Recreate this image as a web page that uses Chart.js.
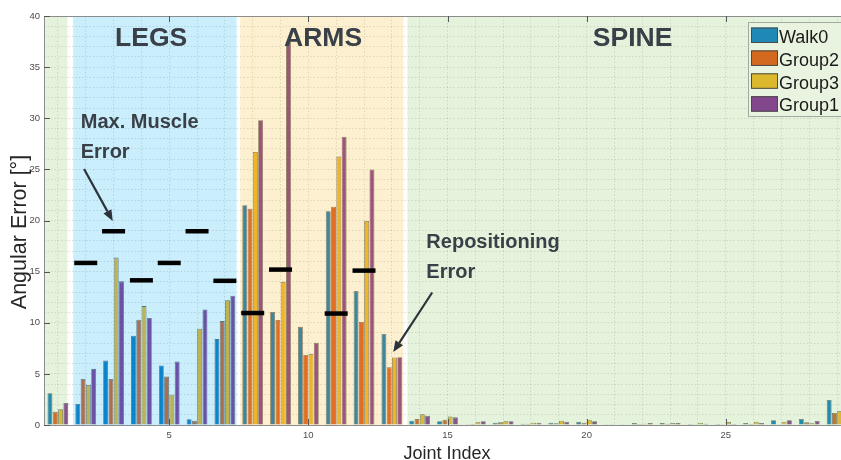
<!DOCTYPE html>
<html>
<head>
<meta charset="utf-8">
<script src="https://cdn.jsdelivr.net/npm/chart.js@4.4.0/dist/chart.umd.min.js"></script>
<style>
  html, body { margin:0; padding:0; background:#ffffff; overflow:hidden; }
  #wrap { width:841px; height:460px; overflow:hidden; position:relative; }
  canvas { display:block; }
</style>
</head>
<body>
<div id="wrap"><canvas id="c" width="852" height="460"></canvas></div>
<script>
// ---------------- data ----------------
const joints = [1,2,3,4,5,6,7,8,9,10,11,12,13,14,15,16,17,18,19,20,21,22,23,24,25,26,27,28,29];
const seriesNames = ['Walk0','Group2','Group3','Group1'];
const walk0  = [3.1, 2.06, 6.3, 8.73, 5.82, 0.56, 8.4, 21.5, 11.05, 9.6, 20.9, 13.1, 8.9, 0.42, 0.36, 0.07, 0.23, 0.13, 0.23, 0.33, 0.07, 0.2, 0.2, 0.1, 0.1, 0.2, 0.46, 0.59, 2.45];
const group2 = [1.3, 4.5, 4.5, 10.3, 4.74, 0.42, 10.16, 21.15, 10.27, 6.85, 21.35, 10.07, 5.64, 0.59, 0.52, 0.1, 0.26, 0.13, 0.16, 0.23, 0.03, 0.1, 0.13, 0.03, 0.03, 0.1, 0.07, 0.26, 1.18];
const group3 = [1.54, 3.92, 16.37, 11.63, 2.97, 9.41, 12.2, 26.7, 14.0, 6.94, 26.25, 19.95, 6.6, 1.05, 0.82, 0.26, 0.36, 0.23, 0.42, 0.52, 0.05, 0.13, 0.2, 0.23, 0.3, 0.33, 0.33, 0.16, 1.37];
const group1 = [2.16, 5.49, 14.05, 10.46, 6.2, 11.3, 12.65, 29.8, 37.5, 8.05, 28.2, 25.0, 6.62, 0.9, 0.75, 0.36, 0.36, 0.23, 0.33, 0.36, 0.03, 0.2, 0.2, 0.13, 0.1, 0.2, 0.46, 0.39, 1.0];
const maxMuscleJoints = [2, 3, 4, 5, 6, 7, 8, 9, 11, 12];
const maxMuscleError  = [15.85, 18.95, 14.15, 15.85, 18.95, 14.1, 10.95, 15.2, 10.9, 15.1];
const xTickLabels = [5, 10, 15, 20, 25];
const yTickLabels = [0, 5, 10, 15, 20, 25, 30, 35, 40];
const regionNames = ['LEGS', 'ARMS', 'SPINE'];

// ---------------- styles ----------------
const barColors    = ['#0072BD', '#D95319', '#EDB120', '#7E2F8E'];
const legendColors = ['#1f88b4', '#d2691f', '#dcb92c', '#82468c'];
// region overlays: [from, to, colour] in joint units
const regions = [
  [0.5, 1.34, 'rgba(155,207,115,0.25)'],
  [1.55, 7.42, 'rgba(47,187,243,0.25)'],
  [7.55, 13.42, 'rgba(247,195,67,0.25)'],
  [13.56, 29.5, 'rgba(155,207,115,0.25)']
];
const regionLabelX = [4.35, 10.53, 21.65];
const textColor = '#3a4048';
const FONT = '"Liberation Sans", Arial, Helvetica, sans-serif';

const toXY = arr => joints.map((j, i) => ({x: j, y: arr[i]}));
const allSeries = [walk0, group2, group3, group1];

const datasets = allSeries.map((arr, k) => ({
  type: 'bar',
  label: seriesNames[k],
  data: toXY(arr),
  backgroundColor: barColors[k],
  borderColor: 'rgba(40,40,40,0.75)',
  borderWidth: 0.8,
  categoryPercentage: 0.76,
  barPercentage: 0.93,
  order: 1
}));
datasets.push({
  type: 'line',
  label: 'Max. Muscle Error',
  data: maxMuscleJoints.map((j, i) => ({x: j, y: maxMuscleError[i]})),
  showLine: false,
  pointStyle: 'line',
  pointRadius: 11.5,
  pointHoverRadius: 11.5,
  pointBorderWidth: 4.5,
  pointBorderColor: '#000000',
  pointBackgroundColor: '#000000',
  borderColor: '#000000',
  order: 0
});
const markerIndex = datasets.length - 1;

function arrow(ctx, x1, y1, x2, y2) {
  const ang = Math.atan2(y2 - y1, x2 - x1);
  const L = 11, W = 4.5;
  const bx = x2 - L * Math.cos(ang), by = y2 - L * Math.sin(ang);
  ctx.beginPath();
  ctx.moveTo(x1, y1);
  ctx.lineTo(bx, by);
  ctx.stroke();
  ctx.beginPath();
  ctx.moveTo(x2, y2);
  ctx.lineTo(bx + W * Math.sin(ang), by - W * Math.cos(ang));
  ctx.lineTo(bx - W * Math.sin(ang), by + W * Math.cos(ang));
  ctx.closePath();
  ctx.fill();
}

const overlayPlugin = {
  id: 'overlay',
  beforeDatasetDraw(chart, args) {
    if (args.index !== markerIndex) return;
    const {ctx, chartArea: a, scales: {x}} = chart;
    ctx.save();
    regions.forEach(([f, t, c]) => {
      const x1 = Math.max(a.left, x.getPixelForValue(f));
      const x2 = Math.min(a.right, x.getPixelForValue(t));
      ctx.fillStyle = c;
      ctx.fillRect(x1, a.top, x2 - x1, a.bottom - a.top);
    });
    ctx.restore();
  },
  afterDraw(chart) {
    const {ctx, chartArea: a, scales: {x, y}} = chart;
    ctx.save();
    // frame
    ctx.strokeStyle = '#8c8c8c';
    ctx.lineWidth = 1;
    ctx.beginPath();
    ctx.moveTo(a.left + 0.5, a.top + 0.5); ctx.lineTo(a.right, a.top + 0.5);
    ctx.moveTo(a.left + 0.5, a.top); ctx.lineTo(a.left + 0.5, a.bottom + 0.5);
    ctx.moveTo(a.left, a.bottom + 0.5); ctx.lineTo(a.right, a.bottom + 0.5);
    ctx.stroke();
    // inner tick marks
    ctx.strokeStyle = '#555';
    ctx.beginPath();
    xTickLabels.forEach(v => {
      const px = Math.round(x.getPixelForValue(v)) + 0.5;
      ctx.moveTo(px, a.bottom); ctx.lineTo(px, a.bottom - 6);
      ctx.moveTo(px, a.top); ctx.lineTo(px, a.top + 6);
    });
    yTickLabels.forEach(v => {
      const py = Math.round(y.getPixelForValue(v)) + 0.5;
      ctx.moveTo(a.left, py); ctx.lineTo(a.left + 6, py);
    });
    ctx.stroke();

    // region titles
    ctx.fillStyle = textColor;
    ctx.font = 'bold 26.5px ' + FONT;
    ctx.textAlign = 'center';
    ctx.textBaseline = 'alphabetic';
    regionNames.forEach((n, i) => {
      ctx.fillText(n, x.getPixelForValue(regionLabelX[i]), y.getPixelForValue(37.07));
    });
    // annotations
    ctx.font = 'bold 20px ' + FONT;
    ctx.textAlign = 'left';
    ctx.fillText('Max. Muscle', x.getPixelForValue(1.82), y.getPixelForValue(29.05));
    ctx.fillText('Error', x.getPixelForValue(1.82), y.getPixelForValue(26.1));
    ctx.fillText('Repositioning', x.getPixelForValue(14.24), y.getPixelForValue(17.3));
    ctx.fillText('Error', x.getPixelForValue(14.24), y.getPixelForValue(14.38));
    ctx.strokeStyle = '#2d333b';
    ctx.fillStyle = '#2d333b';
    ctx.lineWidth = 2.2;
    arrow(ctx, x.getPixelForValue(1.94), y.getPixelForValue(25.04), x.getPixelForValue(2.97), y.getPixelForValue(19.95));
    arrow(ctx, x.getPixelForValue(14.45), y.getPixelForValue(12.96), x.getPixelForValue(13.05), y.getPixelForValue(7.14));

    // axis titles
    ctx.fillStyle = '#262626';
    ctx.font = '18px ' + FONT;
    ctx.textAlign = 'center';
    ctx.fillText('Joint Index', 447, 458.5);
    ctx.save();
    ctx.translate(25.5, 232);
    ctx.rotate(-Math.PI / 2);
    ctx.font = '21.5px ' + FONT;
    ctx.fillText('Angular Error [°]', 0, 0);
    ctx.restore();

    // legend
    const lx = 748.5, ly = 22.5, lw = 100, lh = 94;
    ctx.fillStyle = '#e9f4e0';
    ctx.fillRect(lx, ly, lw, lh);
    ctx.strokeStyle = '#a3aa9f';
    ctx.lineWidth = 1;
    ctx.strokeRect(lx, ly, lw, lh);
    ctx.font = '18px ' + FONT;
    ctx.textAlign = 'left';
    seriesNames.forEach((n, i) => {
      const sy = 27.5 + i * 22.9;
      ctx.fillStyle = legendColors[i];
      ctx.fillRect(751, sy, 27, 15.5);
      ctx.strokeStyle = '#4a4a4a';
      ctx.strokeRect(751.5, sy + 0.5, 26, 14.5);
      ctx.fillStyle = '#1a1a1a';
      ctx.fillText(n, 779, sy + 15.2);
    });
    ctx.restore();
  }
};

new Chart(document.getElementById('c'), {
  type: 'bar',
  data: { datasets },
  options: {
    responsive: false,
    animation: false,
    devicePixelRatio: 1,
    layout: { autoPadding: false, padding: { top: 16, right: 1, left: 0, bottom: 0 } },
    plugins: { legend: { display: false }, tooltip: { enabled: false } },
    scales: {
      x: {
        type: 'linear',
        min: 0.5, max: 29.5,
        offset: false,
        afterFit: s => { s.height = 35; s.paddingLeft = 0; s.paddingRight = 0; },
        afterBuildTicks: s => { s.ticks = joints.map(v => ({value: v})); },
        ticks: {
          autoSkip: false, maxRotation: 0, padding: 5,
          color: '#4d4d4d',
          font: { family: FONT, size: 9.5 },
          callback: v => xTickLabels.includes(v) ? String(v) : ''
        },
        grid: { offset: false, drawTicks: false, color: 'rgba(95,105,95,0.22)', lineWidth: 1 },
        border: { display: false, dash: [1.5, 2] }
      },
      y: {
        min: 0, max: 40,
        afterFit: s => { s.width = 44; s.paddingTop = 0; s.paddingBottom = 0; },
        afterBuildTicks: s => { const t = []; for (let v = 0; v <= 40; v++) t.push({value: v}); s.ticks = t; },
        ticks: {
          autoSkip: false, padding: 4,
          color: '#4d4d4d',
          font: { family: FONT, size: 9.5 },
          callback: v => yTickLabels.includes(v) ? String(v) : ''
        },
        grid: { drawTicks: false, color: 'rgba(95,105,95,0.22)', lineWidth: 1 },
        border: { display: false, dash: [1.5, 2] }
      }
    }
  },
  plugins: [overlayPlugin]
});
</script>
</body>
</html>
